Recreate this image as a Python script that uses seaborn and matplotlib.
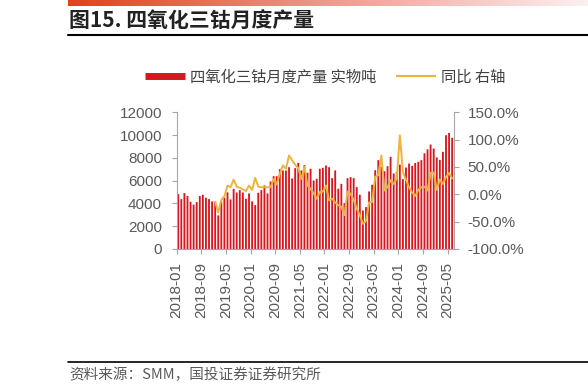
"""Monthly cobalt tetroxide (Co3O4) output with YoY growth on the right axis."""

import matplotlib.pyplot as plt
import numpy as np
import pandas as pd
import seaborn as sns
from matplotlib.colors import LinearSegmentedColormap
from matplotlib.lines import Line2D


MONTHS = pd.date_range("2018-01-01", periods=90, freq="MS").strftime("%Y-%m").tolist()

# monthly output, tonnes (2018-01 .. 2025-06)
OUTPUT = [
    4820, 4380, 4910, 4650, 4150, 3890, 4120, 4650, 4760, 4500, 4380, 4180,
    4180, 2950, 4180, 4500, 4970, 4350, 5280, 4960, 5170, 4960, 4410, 4880,
    4180, 3850, 4930, 5170, 5580, 4880, 5930, 6390, 6390, 7010, 6890, 6890,
    7180, 6190, 7100, 7560, 6890, 7360, 6700, 7040, 6010, 6160, 7040, 7130,
    7330, 7180, 6220, 6900, 5290, 5720, 4030, 6220, 6310, 6220, 5430, 4760,
    3380, 3680, 5050, 5640, 6920, 7800, 7210, 6830, 7270, 8090, 6630, 6770,
    7410, 6130, 7150, 7500, 7300, 7550, 7650, 7800, 8400, 8750, 9170, 8820,
    8040, 7820, 8530, 9990, 10190, 9760,
]

# year-on-year change, % (2019-01 .. 2025-06)
YOY_START = "2019-01"
YOY = [
    -14, -33, -10, -4, 16, 13, 27, 14, 12, 9, 6, 16,
    8, 30, 14, 13, 13, 13, 13, 28, 18, 38, 53, 47,
    71, 62, 54, 48, 28, 50, 16, 10, 2, -8, 4, 5,
    16, -11, -8, -15, -20, -23, -38, 5, 1, -10, -26, -38,
    -54, -49, -15, -14, 32, 35, 71, 7, 13, 26, 19, 29,
    108, 41, 26, 13, 3, -3, 8, 13, 14, 7, 39, 40,
    8, 27, 19, 32, 39, 29,
]

LEFT_TICKS = [0, 2000, 4000, 6000, 8000, 10000, 12000]
RIGHT_TICKS = [-100, -50, 0, 50, 100, 150]

TITLE = "图15. 四氧化三钴月度产量"
BAR_LABEL = "四氧化三钴月度产量 实物吨"
LINE_LABEL = "同比 右轴"
SOURCE = "资料来源：SMM，国投证券证券研究所"

RED = "#D7161E"
GOLD = "#EDB43C"
GREY = "#595959"
SPINE = "#A6A6A6"
W, H = 588, 392


def style_ticks(labels):
    for label in labels:
        label.set_fontfamily("Liberation Sans")


def main():
    sns.set_theme(style="white")
    plt.rcParams["font.family"] = ["Noto Sans CJK SC", "DejaVu Sans"]

    fig = plt.figure(figsize=(W / 100, H / 100), dpi=100)
    ax = fig.add_axes([176.7 / W, 1 - 249 / H, 277 / W, 136.7 / H])

    bars = pd.DataFrame({"month": MONTHS, "output": OUTPUT})
    sns.barplot(data=bars, x="month", y="output", color=RED, saturation=1,
                width=0.6, linewidth=0, ax=ax)
    # thin bars vanish when snapped to the pixel grid
    for patch in ax.patches:
        patch.set_snap(False)

    ax2 = ax.twinx()
    start = MONTHS.index(YOY_START)
    sns.lineplot(x=np.arange(start, len(MONTHS)), y=YOY, color=GOLD,
                 linewidth=1.4, ax=ax2)

    ax.set_xlim(-0.5, len(MONTHS) - 0.5)
    ax.set_ylim(0, 12000)
    ax2.set_ylim(-100, 150)
    ax.set_xlabel("")
    ax.set_ylabel("")
    ax2.set_ylabel("")

    ax.set_xticks(np.arange(-0.5, len(MONTHS), 8))
    ax.set_xticklabels(MONTHS[::8], rotation=90)
    ax.set_yticks(LEFT_TICKS)
    ax.set_yticklabels([str(v) for v in LEFT_TICKS])
    ax2.set_yticks(RIGHT_TICKS)
    ax2.set_yticklabels([f"{v:.1f}%" for v in RIGHT_TICKS])

    ax.tick_params(axis="both", bottom=True, left=True, direction="out",
                   length=3.6, width=0.8, color=SPINE, labelsize=11,
                   labelcolor=GREY)
    ax.tick_params(axis="x", pad=6)
    ax.tick_params(axis="y", pad=7)
    ax2.tick_params(axis="y", right=True, left=False, direction="out",
                    length=3.6, width=0.8, color=SPINE, labelsize=11,
                    labelcolor=GREY, pad=6.5)
    style_ticks(ax.get_xticklabels() + ax.get_yticklabels() + ax2.get_yticklabels())

    for a in (ax, ax2):
        for spine in a.spines.values():
            spine.set_color(SPINE)
            spine.set_linewidth(0.8)
        a.spines["top"].set_visible(False)
    ax2.spines["left"].set_visible(False)
    ax.spines["right"].set_visible(False)

    handles = [Line2D([0], [0], color=RED, linewidth=5, solid_capstyle="butt"),
               Line2D([0], [0], color=GOLD, linewidth=1.5, solid_capstyle="butt")]
    fig.legend(handles, [BAR_LABEL, LINE_LABEL], loc="center",
               bbox_to_anchor=(0.553, 1 - 77 / H), ncol=2, frameon=False,
               fontsize=11, handlelength=2.6, handletextpad=0.35,
               columnspacing=1.3, labelcolor="#404040")

    # header band, title and rules
    band = fig.add_axes([67.5 / W, 1 - 6.5 / H, 1 - 67.5 / W, 6.5 / H])
    cmap = LinearSegmentedColormap.from_list(
        "band", ["#E2401E", "#EE9A8E", "#FDF0F0"])
    band.imshow(np.linspace(0, 1, 256)[None, :], aspect="auto", cmap=cmap)
    band.axis("off")

    fig.text(69 / W, 1 - 21 / H, TITLE, fontsize=15, fontweight="bold",
             color="#222222", ha="left", va="center")
    fig.add_artist(Line2D([67.5 / W, 1], [1 - 34.5 / H] * 2, color="black",
                          linewidth=1.5, transform=fig.transFigure))
    fig.add_artist(Line2D([67.5 / W, 1], [1 - 362 / H] * 2, color="black",
                          linewidth=1.2, transform=fig.transFigure))
    fig.text(69 / W, 1 - 375 / H, SOURCE, fontsize=10.5, style="italic",
             color=GREY, ha="left", va="center")

    fig.savefig("out.png", dpi=100)
    plt.close(fig)


if __name__ == "__main__":
    main()
